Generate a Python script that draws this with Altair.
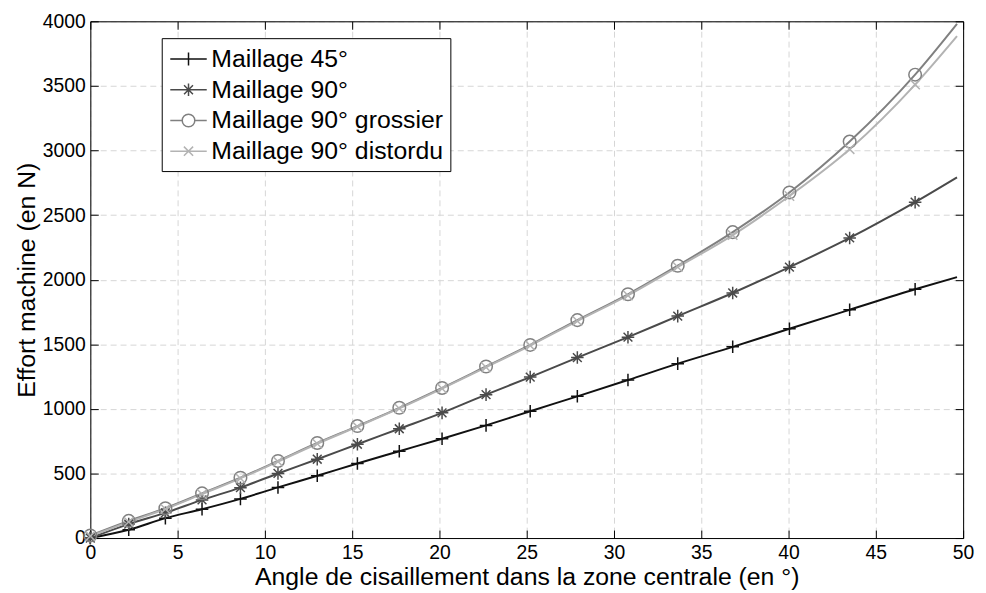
import altair as alt
import pandas as pd

# ---------------- data ----------------
series = ["Maillage 45°", "Maillage 90°", "Maillage 90° grossier", "Maillage 90° distordu"]

angle_markers = [0.0, 2.2, 4.3, 6.4, 8.6, 10.75, 13.0, 15.3, 17.7, 20.15, 22.67,
                 25.2, 27.9, 30.8, 33.65, 36.8, 40.05, 43.5, 47.25]
angle_end = 49.65

effort_45 = [0, 64, 154, 223, 303, 392, 482, 577, 672, 769, 872,
             982, 1097, 1223, 1350, 1480, 1620, 1767, 1926]
effort_90 = [0, 108, 195, 295, 390, 500, 610, 726, 846, 969, 1110,
             1246, 1397, 1555, 1718, 1897, 2097, 2323, 2600]
effort_grossier = [20, 133, 231, 346, 467, 597, 736, 867, 1008, 1162, 1328,
                   1495, 1687, 1887, 2108, 2368, 2675, 3069, 3587]
effort_distordu = [15, 125, 225, 340, 462, 592, 730, 862, 1003, 1157, 1322,
                   1490, 1680, 1878, 2098, 2345, 2648, 3010, 3510]
effort_end = [2020, 2792, 3980, 3885]

x_ticks = [0, 5, 10, 15, 20, 25, 30, 35, 40, 45, 50]
y_ticks = [0, 500, 1000, 1500, 2000, 2500, 3000, 3500, 4000]

colors = ["#111111", "#4a4a4a", "#808080", "#b3b3b3"]
marker_paths = [
    "M-1,0L1,0M0,-1L0,1",
    "M-1,0L1,0M0,-1L0,1M-0.7,-0.7L0.7,0.7M-0.7,0.7L0.7,-0.7",
    "circle",
    "M-0.75,-0.75L0.75,0.75M-0.75,0.75L0.75,-0.75",
]
legend_paths = [
    "M-1.39,0L1.39,0M0,-0.49L0,0.49",
    "M-1.39,0L1.39,0M0,-0.47L0,0.47M-0.34,-0.34L0.34,0.34M-0.34,0.34L0.34,-0.34",
    "M-1.39,0L-0.48,0M0.48,0L1.39,0M-0.48,0A0.48,0.48 0 1,1 0.48,0A0.48,0.48 0 1,1 -0.48,0",
    "M-1.39,0L1.39,0M-0.35,-0.35L0.35,0.35M-0.35,0.35L0.35,-0.35",
]

# ---------------- table ----------------
rows = []
for name, vals, end in zip(series, [effort_45, effort_90, effort_grossier, effort_distordu], effort_end):
    for i, (a, v) in enumerate(zip(angle_markers, vals)):
        rows.append({"angle": a, "effort": v, "series": name, "marker": True, "order": i})
    rows.append({"angle": angle_end, "effort": end, "series": name, "marker": False, "order": len(vals)})
df = pd.DataFrame(rows)

FONT = "Liberation Sans, Arial, Helvetica, sans-serif"
W, H = 880, 521

xscale = alt.Scale(domain=[0, 50], nice=False, zero=False)
yscale = alt.Scale(domain=[0, 4000], nice=False, zero=False)
cscale = alt.Scale(domain=series, range=colors)

shape_expr = " : ".join(
    f"datum.value === '{s}' ? '{p}'" for s, p in zip(series[:-1], legend_paths[:-1])
) + f" : '{legend_paths[-1]}'"

legend = alt.Legend(
    orient="none", legendX=72, legendY=17, title=None,
    fillColor="white", strokeColor="black", padding=7, rowPadding=4,
    symbolSize=700, symbolStrokeWidth=1.5, symbolOffset=6, labelOffset=9,
    symbolType=alt.ExprRef(shape_expr),
    labelFontSize=25, labelFont=FONT, labelColor="black", labelLimit=500)

base = alt.Chart(df)

# main layer: lines, labelled axes, dashed grid, legend
lines = base.mark_line(strokeWidth=2, interpolate="monotone").encode(
    x=alt.X("angle:Q", scale=xscale, axis=alt.Axis(
        orient="bottom", values=x_ticks, ticks=False, domain=True, domainColor="black",
        domainWidth=1, grid=True, gridDash=[6, 4], gridColor="#d6d6d6", gridWidth=1,
        labelFontSize=19.5, labelFont=FONT, labelColor="black", labelPadding=6,
        labelFlush=False, labelOverlap=False, format="d",
        title="Angle de cisaillement dans la zone centrale (en °)", titleFontSize=25,
        titleFont=FONT, titleFontWeight="normal", titleColor="black", titlePadding=2)),
    y=alt.Y("effort:Q", scale=yscale, axis=alt.Axis(
        orient="left", values=y_ticks, ticks=False, domain=True, domainColor="black",
        domainWidth=1, grid=True, gridDash=[6, 4], gridColor="#d6d6d6", gridWidth=1,
        labelFontSize=19.5, labelFont=FONT, labelColor="black", labelPadding=5,
        labelFlush=False, labelOverlap=False, format="d",
        title="Effort machine (en N)", titleFontSize=25, titleFont=FONT,
        titleFontWeight="normal", titleColor="black", titlePadding=3)),
    color=alt.Color("series:N", scale=cscale, legend=legend),
    detail="series:N",
    order="order:Q",
)

# markers, one layer per series (the first also carries inward ticks on bottom/left)
marker_layers = []
for k, (s, c, p) in enumerate(zip(series, colors, marker_paths)):
    if k == 0:
        xenc = alt.X("angle:Q", scale=xscale, title=None, axis=alt.Axis(
            orient="top", offset=-H, values=x_ticks, ticks=True, tickSize=8,
            tickColor="black", labels=False, domain=False, grid=False))
        yenc = alt.Y("effort:Q", scale=yscale, title=None, axis=alt.Axis(
            orient="right", offset=-W, values=y_ticks, ticks=True, tickSize=8,
            tickColor="black", labels=False, domain=False, grid=False))
    else:
        xenc = alt.X("angle:Q", scale=xscale, axis=None)
        yenc = alt.Y("effort:Q", scale=yscale, axis=None)
    marker_layers.append(
        base.transform_filter(
            (alt.datum.series == s) & alt.datum.marker
        ).mark_point(
            shape=p, color=c, filled=False, size=160, strokeWidth=1.5, opacity=1
        ).encode(x=xenc, y=yenc)
    )

# box: top and right borders with inward ticks
box = base.mark_line(strokeOpacity=0).encode(
    x=alt.X("angle:Q", scale=xscale, title=None, axis=alt.Axis(
        orient="bottom", offset=-H, values=x_ticks, ticks=True, tickSize=8,
        tickColor="black", labels=False, domain=True, domainColor="black", grid=False)),
    y=alt.Y("effort:Q", scale=yscale, title=None, axis=alt.Axis(
        orient="left", offset=-W, values=y_ticks, ticks=True, tickSize=8,
        tickColor="black", labels=False, domain=True, domainColor="black", grid=False)),
    detail="series:N",
)

chart = alt.layer(lines, *marker_layers, box).resolve_axis(
    x="independent", y="independent"
).properties(
    width=W, height=H,
    autosize=alt.AutoSizeParams(type="none"),
    padding={"left": 83, "top": 11, "right": 15, "bottom": 53},
).configure_view(stroke=None).configure(background="white")

chart.save("out.html", embed_options={"renderer": "svg", "actions": False})
